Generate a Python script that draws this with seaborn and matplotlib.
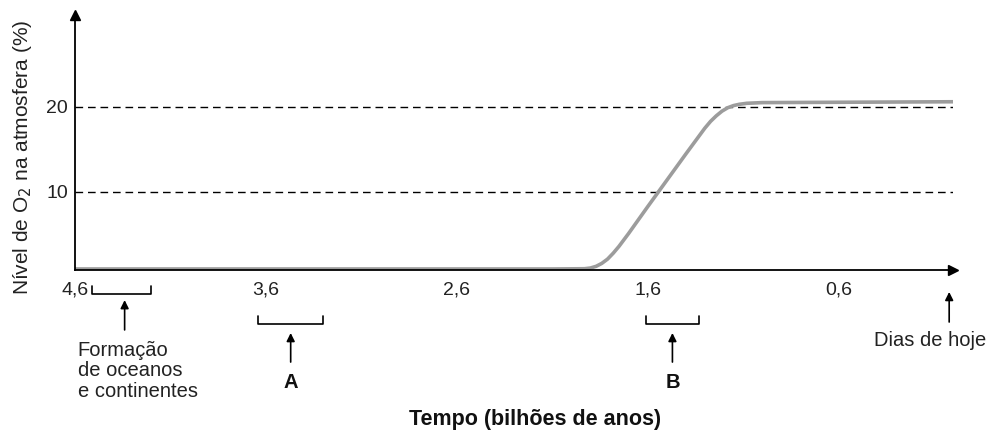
import numpy as np
import pandas as pd
import matplotlib
matplotlib.use('Agg')
import matplotlib.pyplot as plt
import seaborn as sns

# dados (tempo em bilhões de anos atrás, O2 em %)
tempo = [4.6, 2.10, 1.93, 1.90, 1.87, 1.84, 1.81, 1.78, 1.75, 1.70, 1.60,
         1.50, 1.40, 1.30, 1.27, 1.24, 1.21, 1.18, 1.15, 1.12, 1.08, 1.0, 0.0]
nivel_o2 = [0.94, 0.94, 0.97, 1.05, 1.25, 1.6, 2.1, 2.8, 3.6, 5.1, 8.25,
            11.35, 14.45, 17.5, 18.3, 18.95, 19.5, 19.9, 20.15, 20.3, 20.42, 20.5, 20.6]

xticks = [4.6, 3.6, 2.6, 1.6, 0.6]
xtick_labels = ['4,6', '3,6', '2,6', '1,6', '0,6']
yticks = [10, 20]
ytick_labels = ['10', '20']

# marcações abaixo do eixo (início, fim, seta)
chave_oceanos = (4.51, 4.20, 4.34)
chave_a = (3.64, 3.30, 3.47)
chave_b = (1.61, 1.33, 1.47)
hoje = 0.02

sns.set_style('white')
plt.rcParams['font.family'] = ['Liberation Sans', 'DejaVu Sans']

fig = plt.figure(figsize=(9.92, 4.34), dpi=100)
ax = fig.add_axes([75 / 992, 1 - 270 / 434, 878 / 992, 255 / 434])

df = pd.DataFrame({'tempo': tempo, 'o2': nivel_o2})
for y in yticks:
    ax.axhline(y, color='black', lw=1.0, ls=(0, (5.5, 3.5)), zorder=1)
sns.lineplot(data=df, x='tempo', y='o2', ax=ax, color='#9c9c9c', lw=2.6, zorder=2)

ax.set_xlim(4.6, 0.0)
ax.set_ylim(0.82, 30.8)

sns.despine(ax=ax)
for s in ['left', 'bottom']:
    ax.spines[s].set_color('black')
    ax.spines[s].set_linewidth(1.3)
ax.plot(1, 0, '>', color='black', ms=7, transform=ax.transAxes, clip_on=False)
ax.plot(0, 1, '^', color='black', ms=7, transform=ax.transAxes, clip_on=False)

ax.set_xticks(xticks)
ax.set_xticklabels(xtick_labels, fontsize=14, color='#222222')
ax.set_yticks(yticks)
ax.set_yticklabels(ytick_labels, fontsize=14, color='#222222')
ax.tick_params(axis='x', length=0, pad=8)
ax.tick_params(axis='y', length=0, pad=5)

ax.set_xlabel('Tempo (bilhões de anos)', fontsize=15.5, fontweight='bold', color='#111111')
ax.xaxis.set_label_coords(0.524, -0.545)
ax.set_ylabel('Nível de O$_2$ na atmosfera (%)', fontsize=15, color='#222222')
ax.yaxis.set_label_coords(-0.047, 0.443)

tr = ax.get_xaxis_transform()


def chave(x0, x1, y_base, y_top):
    ax.plot([x0, x0, x1, x1], [y_top, y_base, y_base, y_top], color='black',
            lw=1.2, transform=tr, clip_on=False)


def seta(x, y0, y1):
    ax.annotate('', xy=(x, y1), xytext=(x, y0), xycoords=tr, textcoords=tr,
                arrowprops=dict(arrowstyle='-|>', color='black', lw=1.2,
                                mutation_scale=12, shrinkA=0, shrinkB=0))


chave(chave_oceanos[0], chave_oceanos[1], -0.094, -0.063)
seta(chave_oceanos[2], -0.235, -0.118)
ax.text(4.585, -0.278, 'Formação\nde oceanos\ne continentes', transform=tr,
        ha='left', va='top', fontsize=14.5, linespacing=1.1, color='#222222')

chave(chave_a[0], chave_a[1], -0.212, -0.180)
seta(chave_a[2], -0.361, -0.247)
ax.text(chave_a[2], -0.44, 'A', transform=tr, ha='center', va='center',
        fontsize=14.5, fontweight='bold', color='#111111')

chave(chave_b[0], chave_b[1], -0.212, -0.180)
seta(chave_b[2], -0.361, -0.247)
ax.text(chave_b[2], -0.44, 'B', transform=tr, ha='center', va='center',
        fontsize=14.5, fontweight='bold', color='#111111')

seta(hoje, -0.204, -0.086)
ax.text(0.12, -0.275, 'Dias de hoje', transform=tr, ha='center', va='center',
        fontsize=14.5, color='#222222')

plt.savefig('out.png', dpi=100)
